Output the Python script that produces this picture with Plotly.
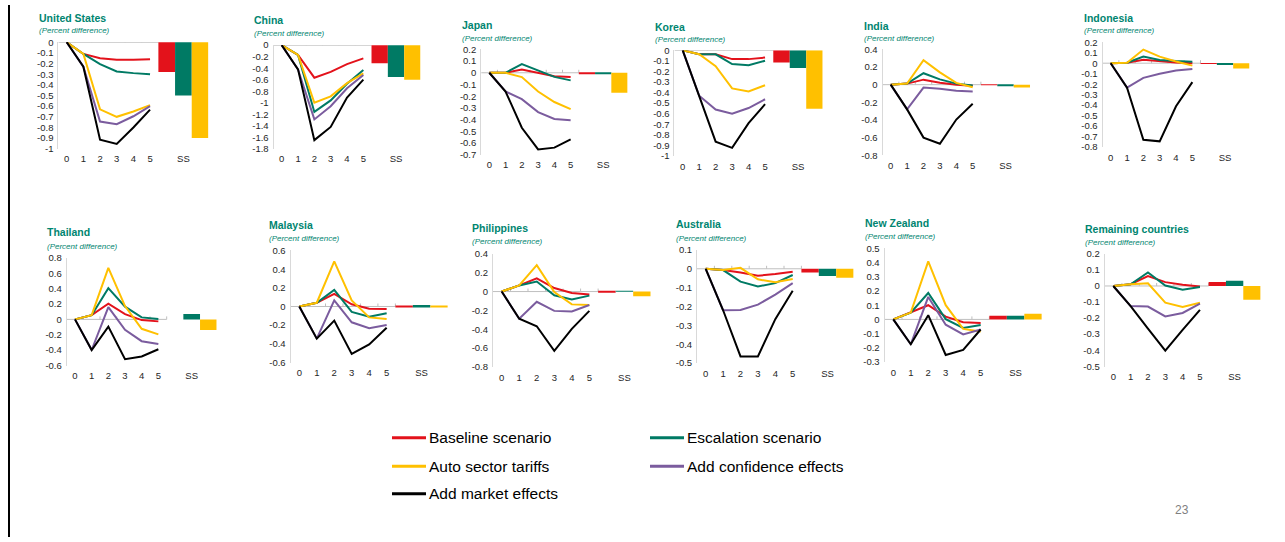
import plotly.graph_objects as go

# ---- data -------------------------------------------------------------
periods = [0, 1, 2, 3, 4, 5]

countries = ["United States", "China", "Japan", "Korea", "India", "Indonesia",
             "Thailand", "Malaysia", "Philippines", "Australia", "New Zealand",
             "Remaining countries"]

baseline = [
    [0, -0.11, -0.15, -0.165, -0.165, -0.16],
    [0, -0.17, -0.565, -0.465, -0.33, -0.23],
    [0, 0, 0.027, -0.003, -0.03, -0.037],
    [0, -0.037, -0.037, -0.083, -0.083, -0.068],
    [0, 0.012, 0.057, 0.023, 0, -0.013],
    [0, 0.005, 0.032, 0.017, 0.007, 0],
    [0, 0.055, 0.204, 0.068, -0.009, -0.026],
    [0, 0.04, 0.135, 0.023, -0.023, -0.026],
    [0, 0.065, 0.14, 0.037, -0.015, -0.032],
    [0, -0.007, -0.02, -0.037, -0.028, -0.016],
    [0, 0.048, 0.10, 0.02, -0.02, -0.025],
    [0, 0.011, 0.062, 0.024, 0.007, -0.003],
]
escalation = [
    [0, -0.11, -0.205, -0.275, -0.29, -0.30],
    [0, -0.17, -1.16, -0.96, -0.67, -0.43],
    [0, 0, 0.075, 0.02, -0.035, -0.065],
    [0, -0.037, -0.037, -0.13, -0.14, -0.099],
    [0, 0.012, 0.13, 0.06, 0.012, -0.01],
    [0, 0.005, 0.063, 0.03, 0.02, 0.014],
    [0, 0.055, 0.408, 0.166, 0.026, 0.004],
    [0, 0.04, 0.177, -0.058, -0.11, -0.072],
    [0, 0.065, 0.106, -0.04, -0.084, -0.043],
    [0, -0.007, -0.068, -0.094, -0.076, -0.033],
    [0, 0.048, 0.186, 0.002, -0.06, -0.04],
    [0, 0.011, 0.084, 0.003, -0.023, -0.007],
]
auto_tariffs = [
    [0, -0.11, -0.63, -0.70, -0.65, -0.59],
    [0, -0.17, -1.0, -0.89, -0.66, -0.49],
    [0, 0, -0.037, -0.16, -0.25, -0.31],
    [0, -0.037, -0.15, -0.36, -0.39, -0.33],
    [0, 0.012, 0.278, 0.14, 0.02, -0.03],
    [0, 0.005, 0.13, 0.063, 0.017, -0.023],
    [0, 0.055, 0.672, 0.174, -0.123, -0.196],
    [0, 0.04, 0.485, 0.065, -0.117, -0.135],
    [0, 0.065, 0.28, -0.005, -0.136, -0.143],
    [0, -0.007, 0.005, -0.056, -0.072, -0.054],
    [0, 0.048, 0.408, 0.10, -0.067, -0.085],
    [0, 0.011, 0.017, -0.104, -0.13, -0.104],
]
confidence = [
    [0, -0.23, -0.745, -0.77, -0.695, -0.60],
    [0, -0.42, -1.29, -1.06, -0.75, -0.52],
    [0, -0.16, -0.226, -0.336, -0.395, -0.405],
    [0, -0.43, -0.56, -0.60, -0.546, -0.463],
    [0, -0.28, -0.033, -0.047, -0.07, -0.077],
    [0, -0.233, -0.14, -0.10, -0.07, -0.055],
    [0, -0.40, 0.16, -0.136, -0.285, -0.323],
    [0, -0.345, 0.065, -0.17, -0.233, -0.198],
    [0, -0.288, -0.109, -0.205, -0.212, -0.143],
    [0, -0.22, -0.219, -0.19, -0.137, -0.076],
    [0, -0.175, 0.158, -0.037, -0.105, -0.071],
    [0, -0.125, -0.128, -0.19, -0.168, -0.11],
]
market = [
    [0, -0.23, -0.915, -0.955, -0.80, -0.633],
    [0, -0.42, -1.65, -1.42, -0.91, -0.60],
    [0, -0.16, -0.47, -0.655, -0.64, -0.57],
    [0, -0.43, -0.865, -0.923, -0.69, -0.51],
    [0, -0.28, -0.60, -0.67, -0.395, -0.217],
    [0, -0.233, -0.73, -0.745, -0.41, -0.18],
    [0, -0.40, -0.094, -0.52, -0.485, -0.39],
    [0, -0.345, -0.152, -0.51, -0.408, -0.229],
    [0, -0.288, -0.368, -0.628, -0.396, -0.205],
    [0, -0.22, -0.465, -0.465, -0.267, -0.116],
    [0, -0.175, 0.03, -0.25, -0.215, -0.071],
    [0, -0.125, -0.265, -0.403, -0.273, -0.149],
]
# steady-state ("SS") results for the first three scenarios
ss_baseline = [-0.28, -0.315, -0.008, -0.114, -0.004, -0.005, 0.0, 0.01, -0.005, -0.02, 0.025, 0.025]
ss_escalation = [-0.50, -0.555, -0.01, -0.167, -0.01, -0.015, 0.07, 0.015, 0.008, -0.038, 0.025, 0.033]
ss_auto = [-0.90, -0.60, -0.17, -0.552, -0.033, -0.05, -0.14, 0.003, -0.05, -0.047, 0.04, -0.085]

# y-axis scale of each panel: (lowest tick, highest tick, step)
y_scales = [(-1.0, 0.0, 0.1), (-1.8, 0.0, 0.2), (-0.7, 0.2, 0.1), (-1.0, 0.0, 0.1),
            (-0.8, 0.4, 0.2), (-0.8, 0.2, 0.1), (-0.6, 0.8, 0.2), (-0.6, 0.6, 0.2),
            (-0.8, 0.4, 0.2), (-0.5, 0.1, 0.1), (-0.3, 0.5, 0.1), (-0.5, 0.2, 0.1)]

x_tick_vals = [0, 1, 2, 3, 4, 5, 7]
x_tick_text = ["0", "1", "2", "3", "4", "5", "SS"]

series_names = ["Baseline scenario", "Escalation scenario", "Auto sector tariffs",
                "Add confidence effects", "Add market effects"]
series_colors = ["#E3121B", "#007A64", "#FFC000", "#7B5C9E", "#000000"]

# ---- page geometry (pixels) --------------------------------------------
W, H = 1285, 542
# per panel: pixel x of period 0, pixels per period, pixel y of top / bottom tick
boxes = [(66.7, 16.67, 37.7, 146.7), (281.7, 16.33, 40.7, 146.7), (489.3, 16.27, 45, 152.7),
         (682.7, 16.47, 46, 154), (890.7, 16.4, 45, 153.3), (1110.7, 16.33, 37.7, 145),
         (75, 16.67, 257.7, 367.3), (299.3, 17.47, 250, 364.3), (501.7, 17.53, 253.3, 369),
         (705.7, 17.4, 249.3, 365), (893.3, 17.47, 247.7, 364), (1113.3, 17.33, 253.3, 368.3)]
# per panel: title left x, title y, subtitle y
title_pos = [(36.7, 13.3, 26), (252.3, 15, 29.3), (460, 20.7, 34), (653.3, 22.7, 35),
             (861.7, 21, 34.3), (1081.7, 13.3, 26), (45, 231, 245.7), (267.3, 224.3, 238.3),
             (470, 227.7, 241), (674, 223.3, 237.7), (862.7, 222.3, 236), (1082.7, 228.3, 241.7)]

X_LO, X_HI = -0.5, 8.5
TEAL = "#008570"
FONT = "Liberation Sans, Arial, sans-serif"


def px_x(v):
    return v / W


def px_y(v):
    return 1 - v / H


def fmt(v):
    v = round(v, 3)
    if abs(v) < 1e-9:
        return "0"
    return ("%.1f" % v).rstrip("0").rstrip(".")


fig = go.Figure()
shapes = []
annotations = []
layout_axes = {}

for i, name in enumerate(countries):
    n = i + 1
    xa = "x" if n == 1 else "x%d" % n
    ya = "y" if n == 1 else "y%d" % n
    x0px, unit, ytop, ybot = boxes[i]
    ymin, ymax, step = y_scales[i]

    # time-path lines (confidence drawn before market so black sits on top)
    for s_idx, data in enumerate([baseline, escalation, auto_tariffs, confidence, market]):
        fig.add_trace(go.Scatter(
            x=periods, y=data[i], mode="lines", xaxis=xa, yaxis=ya,
            line=dict(color=series_colors[s_idx], width=2),
            name=series_names[s_idx], showlegend=False, hoverinfo="skip"))

    # steady-state bars
    fig.add_trace(go.Bar(
        x=[6, 7, 8], y=[ss_baseline[i], ss_escalation[i], ss_auto[i]],
        width=1.0, xaxis=xa, yaxis=ya,
        marker=dict(color=series_colors[:3], line=dict(width=0)),
        showlegend=False, hoverinfo="skip"))

    # axes
    n_ticks = int(round((ymax - ymin) / step)) + 1
    tvals = [round(ymin + k * step, 3) for k in range(n_ticks)]
    pad = (ymax - ymin) * 0.002
    key = "" if n == 1 else str(n)
    layout_axes["xaxis" + key] = dict(
        domain=[px_x(x0px + X_LO * unit), px_x(x0px + X_HI * unit)],
        range=[X_LO, X_HI], anchor=ya, showgrid=False, zeroline=False,
        showline=False, ticks="", tickvals=x_tick_vals, ticktext=x_tick_text,
        tickfont=dict(family=FONT, size=9.5, color="#262626"),
        ticklabelstandoff=3, fixedrange=True)
    layout_axes["yaxis" + key] = dict(
        domain=[px_y(ybot), px_y(ytop)], range=[ymin - pad, ymax + pad],
        anchor=xa, showgrid=False, zeroline=False, showline=True,
        linecolor="#D9D9D9", linewidth=1, ticks="",
        tickvals=tvals, ticktext=[fmt(v) for v in tvals],
        tickfont=dict(family=FONT, size=9.5, color="#262626"),
        ticklabelstandoff=2, fixedrange=True)

    # category axis at zero with small boundary ticks
    shapes.append(dict(type="line", xref=xa, yref=ya, x0=X_LO, x1=5.5, y0=0, y1=0,
                       line=dict(color="#BFBFBF", width=1), layer="below"))
    for b in [0.5, 1.5, 2.5, 3.5, 4.5, 5.5]:
        shapes.append(dict(type="line", xref=xa, yref=ya, x0=b, x1=b,
                           ysizemode="pixel", yanchor=0, y0=0, y1=3,
                           line=dict(color="#BFBFBF", width=1), layer="below"))

    # panel title and unit note
    tx, ty, sy = title_pos[i]
    annotations.append(dict(text="<b>%s</b>" % name, xref="paper", yref="paper",
                            x=px_x(tx), y=px_y(ty), xanchor="left", yanchor="middle",
                            showarrow=False, font=dict(family=FONT, size=10.5, color=TEAL)))
    annotations.append(dict(text="<i>(Percent difference)</i>", xref="paper", yref="paper",
                            x=px_x(tx), y=px_y(sy), xanchor="left", yanchor="middle",
                            showarrow=False, font=dict(family=FONT, size=8, color=TEAL)))

# legend block
legend_slots = [(392, 441), (650, 441), (392, 470), (650, 470), (392, 498)]
for (lx, ly), nm, col in zip(legend_slots, series_names, series_colors):
    shapes.append(dict(type="line", xref="paper", yref="paper",
                       x0=px_x(lx), x1=px_x(lx + 34), y0=px_y(ly), y1=px_y(ly),
                       line=dict(color=col, width=3)))
    annotations.append(dict(text=nm, xref="paper", yref="paper",
                            x=px_x(lx + 35), y=px_y(ly), xanchor="left", yanchor="middle",
                            showarrow=False, font=dict(family=FONT, size=15.5, color="#000000")))

# page number and left rule
annotations.append(dict(text="23", xref="paper", yref="paper", x=px_x(1182), y=px_y(515),
                        xanchor="center", yanchor="middle", showarrow=False,
                        font=dict(family=FONT, size=12, color="#7F7F7F")))
shapes.append(dict(type="line", xref="paper", yref="paper", x0=px_x(9), x1=px_x(9),
                   y0=0, y1=1, line=dict(color="#000000", width=2)))

fig.update_layout(
    width=W, height=H, margin=dict(l=0, r=0, t=0, b=0),
    paper_bgcolor="white", plot_bgcolor="white",
    showlegend=False, barmode="overlay",
    shapes=shapes, annotations=annotations, **layout_axes)

fig.write_html("out.html")
